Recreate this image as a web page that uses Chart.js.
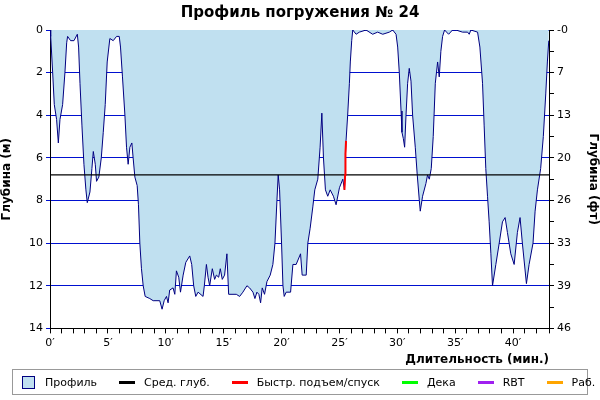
<!DOCTYPE html>
<html><head><meta charset="utf-8">
<script src="https://cdn.jsdelivr.net/npm/chart.js@4/dist/chart.umd.min.js"></script>
<style>
body{margin:0;background:#fff;font-family:"DejaVu Sans",Verdana,sans-serif;}
#wrap{position:relative;width:600px;height:400px;}
#legend{position:absolute;left:12px;top:369px;width:576px;height:26px;border:1px solid #999;box-sizing:border-box;display:flex;align-items:center;font-size:11px;color:#000;white-space:nowrap;}
.it{display:flex;align-items:center;margin-left:0;margin-right:22px;white-space:nowrap;}
.ln{width:16px;height:3px;margin-right:9px;}
.bx{width:11px;height:11px;background:#c0e0f0;border:1px solid #000080;margin-right:10px;}
</style></head><body>
<div id="wrap"><canvas id="c" width="600" height="371" style="width:600px;height:371px;position:absolute;left:0;top:0"></canvas>
<div id="legend">
<div class="it" style="margin-left:9px"><div class="bx"></div>Профиль</div>
<div class="it"><div class="ln" style="background:#000"></div>Сред. глуб.</div>
<div class="it"><div class="ln" style="background:#f00"></div>Быстр. подъем/спуск</div>
<div class="it"><div class="ln" style="background:#0f0"></div>Дека</div>
<div class="it"><div class="ln" style="background:#a020f0"></div>RBT</div>
<div class="it"><div class="ln" style="background:#ffa500"></div>Раб.</div>
</div></div>
<script>
const times=[0,0.06,0.23,0.37,0.57,0.72,0.86,1.09,1.29,1.44,1.52,1.78,2.07,2.36,2.47,2.59,2.76,2.93,3.1,3.22,3.45,3.62,3.74,3.91,4.02,4.22,4.43,4.6,4.77,4.94,5.17,5.46,5.75,5.98,6.09,6.26,6.47,6.61,6.75,6.9,7.07,7.18,7.33,7.53,7.64,7.76,7.9,8.05,8.22,8.62,8.91,9.48,9.68,9.86,10.06,10.2,10.34,10.63,10.78,10.92,11.12,11.27,11.5,11.73,12.07,12.24,12.41,12.59,12.79,13.22,13.33,13.51,13.65,13.79,14.02,14.22,14.37,14.57,14.71,14.88,15.08,15.28,15.43,16.09,16.38,16.66,17.01,17.24,17.53,17.7,17.87,18.04,18.19,18.33,18.53,18.74,19.02,19.25,19.43,19.6,19.71,19.83,20.0,20.12,20.23,20.4,20.78,20.98,21.26,21.64,21.78,22.13,22.27,22.47,22.7,22.87,23.13,23.33,23.48,23.62,23.79,23.99,24.2,24.48,24.71,25.0,25.29,25.43,25.49,25.52,25.57,25.71,25.86,25.94,26.06,26.15,26.44,26.72,27.3,27.87,28.3,28.74,29.31,29.6,29.89,30.03,30.17,30.32,30.4,30.52,30.63,30.75,30.89,31.03,31.18,31.32,31.55,31.72,31.9,31.98,32.18,32.47,32.61,32.76,32.93,33.1,33.28,33.48,33.62,33.76,33.91,34.08,34.43,34.77,35.06,35.63,36.07,36.21,36.35,36.93,37.13,37.36,37.5,37.64,37.79,37.93,38.08,38.22,38.51,38.8,39.08,39.31,39.51,39.8,40.09,40.37,40.6,40.8,41.15,41.38,41.72,41.9,42.1,42.38,42.61,42.82,42.96,43.08];
const depths=[0,0.3,2,3.5,4.2,5.3,4.2,3.5,2,0.6,0.3,0.5,0.5,0.2,0.8,2.5,4.5,6.3,7.5,8.1,7.6,6.5,5.7,6.3,7.1,6.9,6.0,4.8,3.5,1.5,0.4,0.5,0.3,0.3,0.8,2.2,4.0,5.5,6.3,5.5,5.3,6.0,6.9,7.3,8.2,10.0,11.2,12.0,12.5,12.6,12.7,12.7,13.1,12.7,12.5,12.8,12.2,12.1,12.4,11.3,11.6,12.3,11.5,10.9,10.6,11.0,12.0,12.5,12.3,12.5,12.0,11.0,11.6,12.0,11.2,11.7,11.5,11.6,11.2,11.7,11.5,10.5,12.4,12.4,12.5,12.3,12.0,12.1,12.3,12.6,12.3,12.4,12.8,12.1,12.4,11.8,11.5,11.0,10.0,8.0,6.8,7.5,10.0,12.0,12.5,12.3,12.3,11.0,11.0,10.5,11.5,11.5,10.0,9.3,8.3,7.5,7.0,5.5,3.9,6.0,7.5,7.8,7.5,7.8,8.2,7.4,7.0,7.5,6.8,5.8,5.2,4.0,2.5,1.5,0.5,0.0,0.2,0.1,0.0,0.2,0.1,0.2,0.1,0.0,0.2,0.8,2.0,3.8,4.8,5.1,5.5,4.0,2.5,1.8,2.4,4.0,5.5,6.8,8.0,8.5,7.8,7.2,6.8,7.0,6.5,5.0,2.5,1.5,2.2,1.0,0.3,0.0,0.2,0.0,0.0,0.1,0.1,0.2,0.0,0.1,0.8,2.5,4.5,6.5,7.8,9.0,10.5,12.0,11.0,10.0,9.0,8.8,9.5,10.5,11.0,9.5,8.8,10.0,11.9,11.0,10.0,8.5,7.5,6.5,5.0,3.0,1.5,0.5];
const fastTimes=[25.43,25.49,25.52,25.57];
const fastDepths=[7.5,6.8,5.8,5.2];
const avgDepth=6.8;
const xMax=43.1;
const profile=times.map((t,i)=>({x:t,y:depths[i]}));
const fast=fastTimes.map((t,i)=>({x:t,y:fastDepths[i]}));
const F="'DejaVu Sans', Verdana, sans-serif";
new Chart(document.getElementById('c'),{
type:'line',
data:{datasets:[
{data:profile,borderColor:'#000080',borderWidth:1,backgroundColor:'#c0e0f0',fill:'origin',pointRadius:0,tension:0,order:3},
{data:[{x:0,y:avgDepth},{x:xMax,y:avgDepth}],borderColor:'#000',borderWidth:1.2,pointRadius:0,fill:false,order:1},
{data:fast,borderColor:'#f00',borderWidth:2,pointRadius:0,fill:false,order:0}
]},
options:{responsive:false,animation:false,
layout:{padding:{top:0,right:0,left:0,bottom:0}},
plugins:{legend:{display:false},tooltip:{enabled:false},
title:{display:true,text:'Профиль погружения № 24',font:{family:F,size:15,weight:'bold'},color:'#000',padding:{top:4,bottom:8}}},
scales:{
x:{type:'linear',min:0,max:xMax,
 ticks:{stepSize:1,autoSkip:false,maxRotation:0,color:'#000',font:{family:F,size:11},callback:v=>v%5===0?v+'′':''},
 grid:{drawOnChartArea:false,color:'#000',tickLength:5},border:{color:'#000'},
 title:{display:true,text:'Длительность (мин.)',align:'end',font:{family:F,size:12,weight:'bold'},color:'#000',padding:{top:0}}},
y:{reverse:true,min:0,max:14,position:'left',
 afterFit:s=>{s.width=50;},
 ticks:{stepSize:2,color:'#000',font:{family:F,size:11}},
 grid:{color:'#0010d0',lineWidth:1,tickLength:4},border:{color:'#000'},
 title:{display:true,text:'Глубина (м)',font:{family:F,size:12,weight:'bold'},color:'#000',padding:0}},
y2:{reverse:true,min:0,max:14,position:'right',
 afterFit:s=>{s.width=51;},
 ticks:{stepSize:1,autoSkip:false,color:'#000',font:{family:F,size:11},callback:v=>v%2===0?(v===0?'-0':String(Math.round(v*3.2808))):''},
 grid:{drawOnChartArea:false,color:'#000',tickLength:5},border:{color:'#000'},
 title:{display:true,text:'Глубина (фт)',font:{family:F,size:12,weight:'bold'},color:'#000',padding:0}}
}}});
</script></body></html>
